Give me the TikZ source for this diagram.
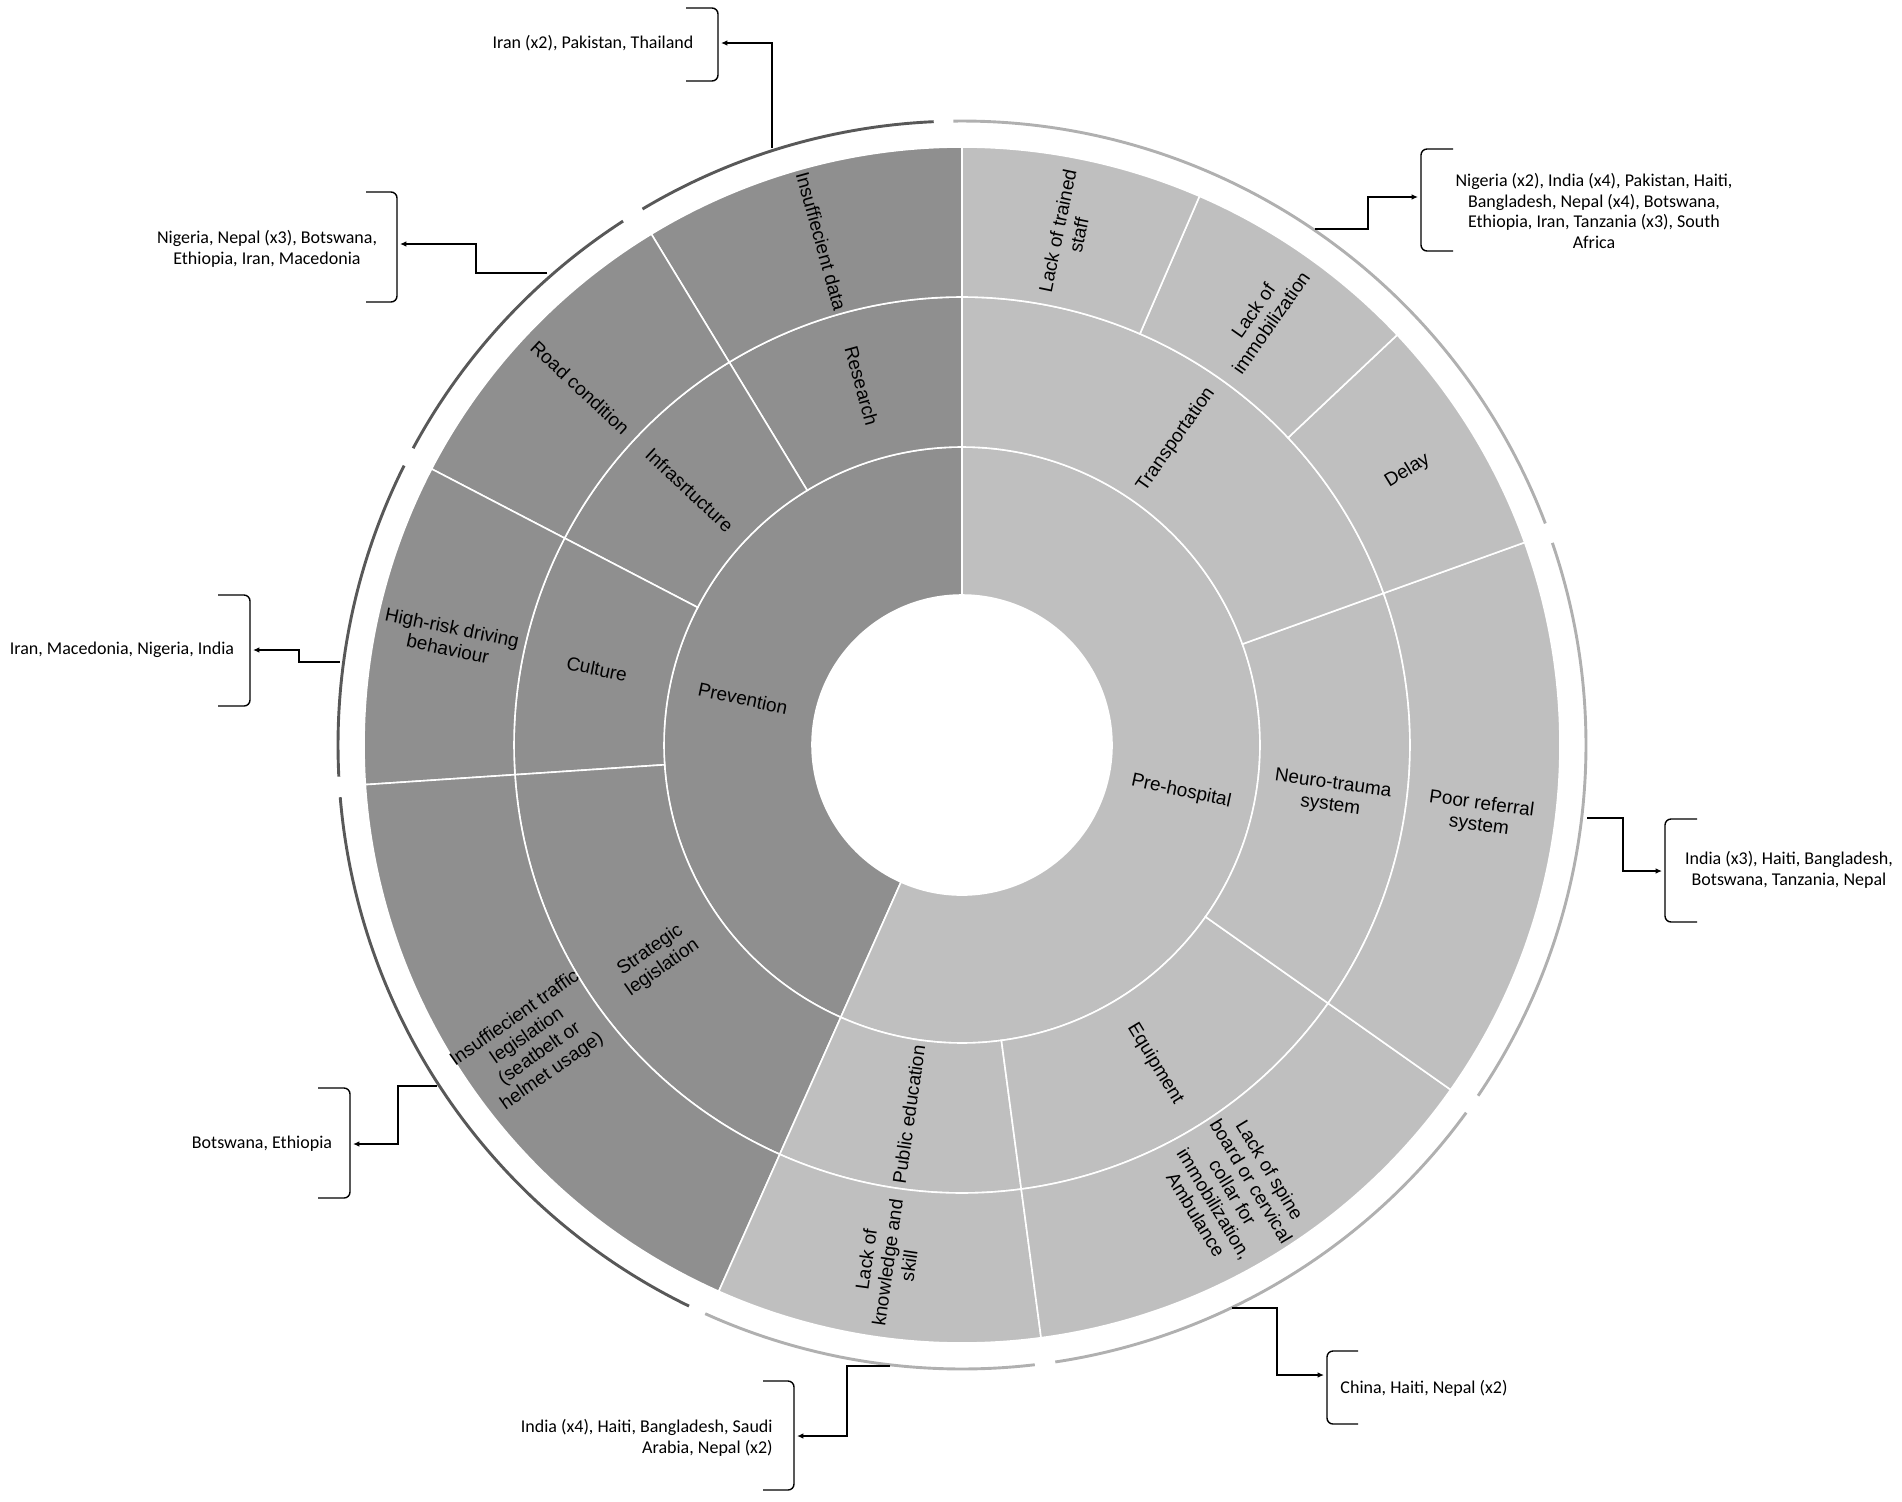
\documentclass[tikz,border=0pt]{standalone}
\usepackage{fontspec}
\setmainfont{Liberation Sans}
\newfontfamily\calib{Carlito}
\usetikzlibrary{arrows.meta}
\definecolor{prevfill}{HTML}{8F8F8F}
\definecolor{prefill}{HTML}{BFBFBF}
\definecolor{prevarc}{HTML}{585858}
\definecolor{prearc}{HTML}{B0B0B0}
\newcommand\mysector[5]{%
  \path[seg, fill=#1] (#4:#2) arc[start angle=#4, end angle=#5, radius=#2]
    -- (#5:#3) arc[start angle=#5, end angle=#4, radius=#3] -- cycle;}
\newcommand\myband[3]{%
  \draw[band, draw=#1] (#2:624) arc[start angle=#2, end angle=#3, radius=624];}
\begin{document}
\begin{tikzpicture}[x=0.5pt,y=0.5pt,
  seg/.style={draw=white, line width=0.8pt},
  lab/.style={font=\fontsize{9.5}{10.8}\selectfont, align=center, text=black, inner sep=0pt},
  ref/.style={font=\calib\fontsize{9}{10.2}\selectfont, align=center, inner sep=0pt},
  brk/.style={line width=0.7pt, rounded corners=3pt},
  con/.style={line width=0.7pt, -{Latex[length=3.2pt,width=2.8pt]}},
  band/.style={line width=1.45pt}]
\useasboundingbox (0,0) rectangle (1902,-1501);
\begin{scope}[shift={(962,-745)}]
  % ring 1
  \mysector{prevfill}{150}{298}{90}{246}
  \mysector{prefill}{150}{298}{246}{450}
  % ring 2
  \mysector{prevfill}{298}{448}{90}{121.3}
  \mysector{prevfill}{298}{448}{121.3}{152.5}
  \mysector{prevfill}{298}{448}{152.5}{183.8}
  \mysector{prevfill}{298}{448}{183.8}{246}
  \mysector{prefill}{298}{448}{246}{277.6}
  \mysector{prefill}{298}{448}{277.6}{324.8}
  \mysector{prefill}{298}{448}{324.8}{379.8}
  \mysector{prefill}{298}{448}{379.8}{450}
  % ring 3
  \mysector{prevfill}{448}{598}{90}{121.3}
  \mysector{prevfill}{448}{598}{121.3}{152.5}
  \mysector{prevfill}{448}{598}{152.5}{183.8}
  \mysector{prevfill}{448}{598}{183.8}{246}
  \mysector{prefill}{448}{598}{246}{277.6}
  \mysector{prefill}{448}{598}{277.6}{324.8}
  \mysector{prefill}{448}{598}{324.8}{379.8}
  \mysector{prefill}{448}{598}{379.8}{403.3}
  \mysector{prefill}{448}{598}{403.3}{426.6}
  \mysector{prefill}{448}{598}{426.6}{450}
  % outer bands
  \myband{prevarc}{92.6}{120.8}
  \myband{prevarc}{122.9}{151.6}
  \myband{prevarc}{153.4}{182.9}
  \myband{prevarc}{184.8}{244.05}
  \myband{prearc}{245.7}{276.7}
  \myband{prearc}{278.6}{323.9}
  \myband{prearc}{325.8}{378.9}
  \myband{prearc}{380.8}{450.8}
  % ring 1 labels
  \node[lab, rotate=-12] (prev) at (168:224) {Prevention};
  \node[lab, rotate=-12] (prehosp) at (348:224) {Pre-hospital};
  % ring 2 labels
  \node[lab, rotate=-74.5] (research) at (105.6:373) {Research};
  \node[lab, rotate=-43.1] (infra) at (136.9:373) {Infrasrtucture};
  \node[lab, rotate=-11.8] (culture) at (168.2:373) {Culture};
  \node[lab, rotate=35] (strat) at (215:373) {Strategic\\legislation};
  \node[lab, rotate=81.8] (pubed) at (261.8:373) {Public education};
  \node[lab, rotate=-58.8] (equip) at (301.2:373) {Equipment};
  \node[lab, rotate=-7.7] (neuro) at (352.3:373) {Neuro-trauma\\system};
  \node[lab, rotate=55] (transp) at (415:373) {Transportation};
  % ring 3 labels
  \node[lab, rotate=-74.5] (insdata) at (105.6:523) {Insuffiecient data};
  \node[lab, rotate=-43.1] (road) at (136.9:523) {Road condition};
  \node[lab, rotate=-11.8] (highrisk) at (168.2:523) {High-risk driving\\behaviour};
  \node[lab, rotate=35] (traffic) at (215:523) {Insuffiecient traffic\\legislation\\(seatbelt or\\helmet usage)};
  \node[lab, rotate=81.8] (knowl) at (261.8:523) {Lack of\\knowledge and\\skill};
  \node[lab, rotate=-58.8] (spine) at (301.2:523) {Lack of spine\\board or cervical\\collar for\\immobilization,\\Ambulance};
  \node[lab, rotate=-7.7] (poorref) at (352.3:523) {Poor referral\\system};
  \node[lab, rotate=31.6] (delay) at (391.6:523) {Delay};
  \node[lab, rotate=55] (immob) at (415:523) {Lack of\\immobilization};
  \node[lab, rotate=78.3] (trained) at (438.3:523) {Lack of trained\\staff};
\end{scope}

% reference labels
\node[ref] (r1) at (593,-43) {Iran (x2), Pakistan, Thailand};
\node[ref] (r2) at (267,-249) {Nigeria, Nepal (x3), Botswana,\\Ethiopia, Iran, Macedonia};
\node[ref] (r3) at (1594,-211) {Nigeria (x2), India (x4), Pakistan, Haiti,\\Bangladesh, Nepal (x4), Botswana,\\Ethiopia, Iran, Tanzania (x3), South\\Africa};
\node[ref] (r4) at (122,-650) {Iran, Macedonia, Nigeria, India};
\node[ref] (r5) at (1789,-870) {India (x3), Haiti, Bangladesh,\\Botswana, Tanzania, Nepal};
\node[ref] (r6) at (262,-1144) {Botswana, Ethiopia};
\node[ref, align=right, anchor=east] (r7) at (773,-1438) {India (x4), Haiti, Bangladesh, Saudi\\Arabia, Nepal (x2)};
\node[ref] (r8) at (1424,-1388) {China, Haiti, Nepal (x2)};

% brackets
\draw[brk] (686,-8) -- (718,-8) -- (718,-81) -- (686,-81);
\draw[brk] (366,-192) -- (397,-192) -- (397,-302) -- (366,-302);
\draw[brk] (1453,-149) -- (1421,-149) -- (1421,-251) -- (1453,-251);
\draw[brk] (218,-595) -- (250,-595) -- (250,-706) -- (218,-706);
\draw[brk] (1697,-819) -- (1665,-819) -- (1665,-922) -- (1697,-922);
\draw[brk] (318,-1088) -- (350,-1088) -- (350,-1198) -- (318,-1198);
\draw[brk] (763,-1381) -- (794,-1381) -- (794,-1490) -- (763,-1490);
\draw[brk] (1358,-1351) -- (1327,-1351) -- (1327,-1424) -- (1358,-1424);

% connectors
\coordinate (s1) at (772,-148);   \coordinate (t1) at (721,-43);
\coordinate (s2) at (547,-273);   \coordinate (t2) at (400,-244);
\coordinate (s3) at (1315,-229);  \coordinate (t3) at (1418,-197);
\coordinate (s4) at (340,-662);   \coordinate (t4) at (253,-650);
\coordinate (s5) at (1587,-818);  \coordinate (t5) at (1662,-871);
\coordinate (s6) at (437,-1086);  \coordinate (t6) at (353,-1144);
\coordinate (s7) at (890,-1366);  \coordinate (t7) at (797,-1436);
\coordinate (s8) at (1232,-1308); \coordinate (t8) at (1324,-1375);
\draw[con] (s1) |- (t1);
\draw[con] (s2) -- ++(-71,0) |- (t2);
\draw[con] (s3) -- ++(53,0) |- (t3);
\draw[con] (s4) -- ++(-41,0) |- (t4);
\draw[con] (s5) -- ++(36,0) |- (t5);
\draw[con] (s6) -- ++(-39,0) |- (t6);
\draw[con] (s7) -- ++(-43,0) |- (t7);
\draw[con] (s8) -- ++(45,0) |- (t8);
\end{tikzpicture}
\end{document}
